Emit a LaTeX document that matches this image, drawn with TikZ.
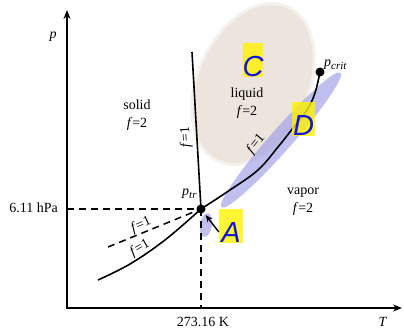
\documentclass[tikz,border=0pt]{standalone}
\usepackage{fontspec}
\setmainfont{Liberation Serif}
\setsansfont{Liberation Sans}
\usetikzlibrary{arrows.meta}
\definecolor{letterblue}{RGB}{20,20,225}
\definecolor{blobcol}{RGB}{236,228,221}
\definecolor{bandcol}{RGB}{150,150,230}
\newcommand{\mysub}[1]{\raisebox{-0.35ex}{\fontsize{11}{11}\selectfont\textit{#1}}}
\begin{document}
\begin{tikzpicture}[x=1pt,y=1pt,
  lbl/.style={font=\fontsize{14}{18}\selectfont, inner sep=0pt, align=center},
  curve/.style={line width=1.6pt},
  axis/.style={line width=1.8pt},
  dsh/.style={line width=1.5pt, dash pattern=on 7pt off 5pt},
  dot/.style={circle, fill=black, inner sep=0pt, minimum size=9pt},
  ybox/.style={fill=yellow, fill opacity=0.8, text opacity=1, text=letterblue,
    font=\sffamily\itshape\fontsize{29}{29}\selectfont, inner xsep=0pt, inner ysep=1pt,
    text height=32pt, text depth=0pt, align=center},
  band/.style={fill=bandcol, opacity=0.6},
  ]
\useasboundingbox (0,0) rectangle (404,330);
% liquid blob
\fill[blobcol, opacity=0.5, rotate around={66:(253,246)}] (253,246) ellipse [x radius=86pt, y radius=57pt];
\fill[blobcol, rotate around={66:(253,246)}] (253,246) ellipse [x radius=83pt, y radius=54pt];
% blue highlight
\fill[band, rotate around={48.5:(281,190)}] (281,190) ellipse [x radius=90pt, y radius=11pt];
\fill[band, rotate around={80:(206,105)}] (206,105) ellipse [x radius=12pt, y radius=6pt];

% axes
\coordinate (O) at (67,22);
\coordinate (ptop) at (67,320);
\coordinate (tright) at (402,22);
\draw[axis, {Stealth[length=9pt,width=7pt]}-{Stealth[length=9pt,width=7pt]}] (ptop) -- (O) -- (tright);
\node[lbl] (plab) at (53,293) {\textit{p}};
\node[lbl] (tlab) at (383,8) {\textit{T}};

% key points
\coordinate (tp) at (201,121);
\coordinate (cp) at (320,258);
\coordinate (mtop) at (192,278);
\coordinate (sbot) at (98,50);
\coordinate (dbot) at (108,83);
\coordinate (yax) at (67,121);
\coordinate (xax) at (201,22);

% dashed guides
\draw[dsh] (yax) -- (tp);
\draw[dsh] (tp) -- (xax);
\draw[dsh] (dbot) -- (tp);

% curves
\draw[curve] (mtop) -- (tp);
\draw[curve] plot[smooth, tension=0.6] coordinates {(sbot) (130,66) (165,90) (tp)};
\draw[curve] plot[smooth, tension=0.6] coordinates {(tp) (230,140) (258,160) (278,183) (293,202) (307,220) (315,237) (cp)};

\node[dot] (tpdot) at (tp) {};
\node[dot] (cpdot) at (cp) {};

% labels
\node[lbl] (hpa) [anchor=east] at (58,122) {6.11 hPa};
\node[lbl] (kel) at (203,8) {273.16 K};
\node[lbl] (ptr) [anchor=west] at (182,136) {\textit{p}\mysub{tr}};
\node[lbl] (pcrit) [anchor=west] at (324,265) {\textit{p}\mysub{crit}};
\node[lbl] (solid) at (137,215) {solid\\\textit{f}=2};
\node[lbl] (liquid) at (247,227) {liquid\\\textit{f}=2};
\node[lbl] (vapor) at (303,128) {vapor\\\textit{f}=2};
\node[lbl, rotate=93] (fm) at (186,193) {\textit{f}=1};
\node[lbl, rotate=50] (fv) at (256,186) {\textit{f}=1};
\node[lbl, rotate=24] (fd) at (141,105) {\textit{f}=1};
\node[lbl, rotate=30] (fs) at (140,82) {\textit{f}=1};

% marker boxes
\node[ybox, minimum width=20pt] (C) at (253,270) {C};
\node[ybox, minimum width=23pt] (D) at (303.5,211) {D};
\node[ybox, minimum width=24pt] (A) at (231,104) {A};
\draw[line width=1.4pt, -{Stealth[length=7pt,width=6pt]}, shorten >=3pt] ([yshift=-6pt]A.west) -- (tpdot);
\end{tikzpicture}
\end{document}
